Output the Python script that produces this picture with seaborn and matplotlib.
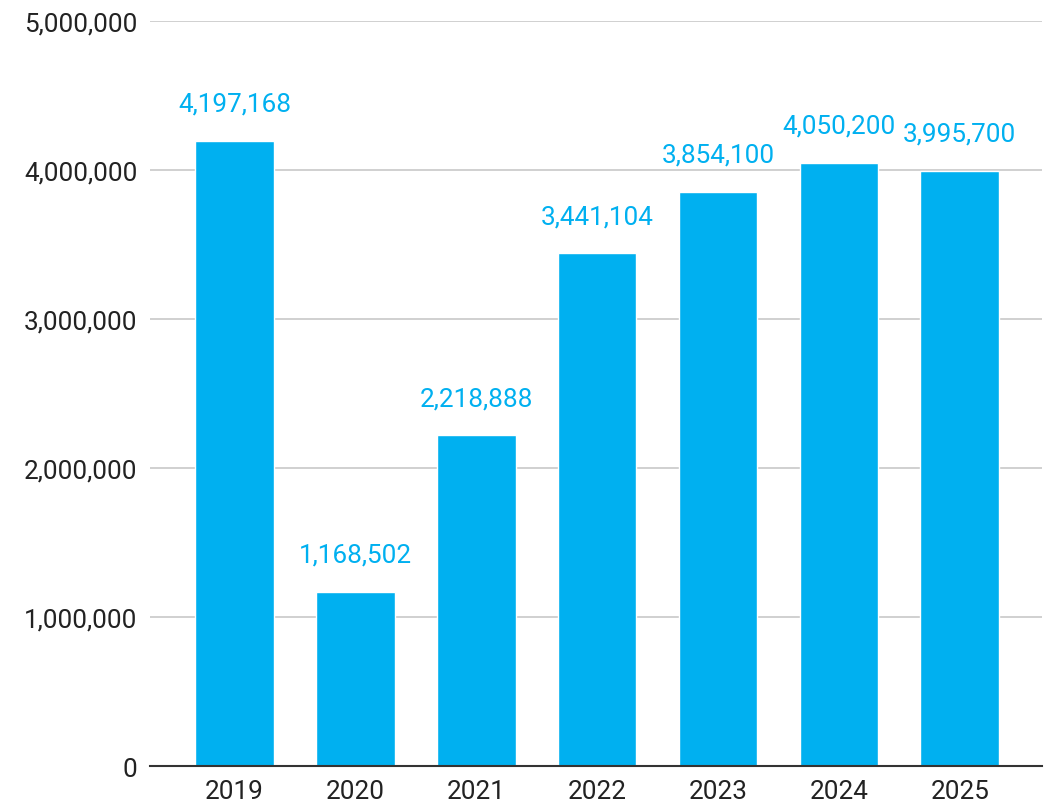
import pandas as pd
import matplotlib
matplotlib.use("Agg")
import matplotlib.pyplot as plt
import seaborn as sns

years = ["2019", "2020", "2021", "2022", "2023", "2024", "2025"]
visitors = [4197168, 1168502, 2218888, 3441104, 3854100, 4050200, 3995700]
y_ticks = [0, 1000000, 2000000, 3000000, 4000000, 5000000]

BAR_COLOR = "#00B0F0"

sns.set_theme(style="white")
plt.rcParams["font.family"] = ["Roboto", "DejaVu Sans"]

df = pd.DataFrame({"year": years, "visitors": visitors})

fig = plt.figure(figsize=(10.51, 8.03), dpi=100)
ax = fig.add_axes([0.1427, 0.0448, 0.8487, 0.9278])

sns.barplot(data=df, x="year", y="visitors", color=BAR_COLOR, saturation=1,
            width=0.65, ax=ax, zorder=3)

# value labels above bars
for container in ax.containers:
    ax.bar_label(container, labels=[f"{v:,}" for v in visitors],
                 padding=18, color=BAR_COLOR, fontsize=18.8)

ax.set_ylim(0, 5000000)
ax.set_xlim(-0.7, 6.68)
ax.set_yticks(y_ticks)
ax.set_yticklabels([f"{t:,}" for t in y_ticks])
ax.yaxis.grid(True, color="#c8c8c8", linewidth=1.2, zorder=0)
ax.set_axisbelow(True)

ax.set_xlabel("")
ax.set_ylabel("")
ax.tick_params(axis="y", length=0, pad=9, labelsize=18.8, labelcolor="#222222")
ax.tick_params(axis="x", length=0, pad=9, labelsize=18.8, labelcolor="#222222")

sns.despine(ax=ax, left=True, top=True, right=True)
ax.spines["bottom"].set_color("#333333")
ax.spines["bottom"].set_linewidth(1.5)
ax.spines["bottom"].set_zorder(4)

fig.savefig("out.png", dpi=100)
